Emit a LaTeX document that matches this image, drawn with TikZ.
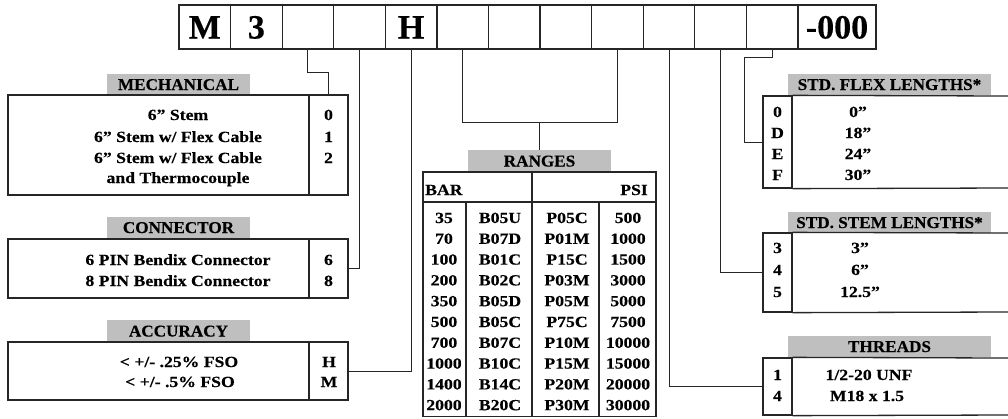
\documentclass[tikz,border=0pt]{standalone}
\usepackage{fontspec}
\setmainfont{Liberation Serif}
\newfontfamily\bodyf{Liberation Serif Bold}[FakeStretch=1.14,FakeBold=0.3]
\newfontfamily\headf{Liberation Serif Bold}[FakeStretch=1.04,FakeBold=0.3]
\newfontfamily\topf{Liberation Serif Bold}[FakeBold=0.3]
\usetikzlibrary{calc}
\begin{document}
\begin{tikzpicture}[x=1pt,y=-1pt,
  frame/.style={draw=black!85,line width=1.3pt},
  wire/.style={draw=black!85,line width=1pt},
  topbox/.style={frame,minimum width=51.58pt,minimum height=44pt,inner sep=0pt,
    font=\topf\fontsize{34}{34}\selectfont,text height=23pt,text depth=0pt},
  hdr/.style={fill=black!25,inner sep=0pt,text height=11pt,text depth=0pt,
    font=\headf\fontsize{16.5}{18}\selectfont},
  cell/.style={frame,inner sep=0pt},
  txt/.style={anchor=base,inner sep=0pt,font=\bodyf\fontsize{15.5}{18}\selectfont},
]
\useasboundingbox (0,0) rectangle (1008,418);
\fill[white] (0,0) rectangle (1008,418);

% top code boxes
\foreach \i/\t in {1/M,2/3,3/,4/,5/H,6/,7/,8/,9/,10/,11/,12/}
  \node[topbox] (b\i) at ({179+(\i-0.5)*51.58},27) {\t};
\node[topbox,minimum width=78pt] (b13) at (837,27) {-000};

% MECHANICAL
\node[hdr,minimum width=143pt,minimum height=21pt] (mechH) at (178.5,84.5) {MECHANICAL};
\node[cell,minimum width=301pt,minimum height=100pt] (mechT) at (158.5,145) {};
\node[cell,minimum width=39pt,minimum height=100pt] (mechC) at (328.5,145) {};
\node[txt] (m1) at (178,120) {6” Stem};
\node[txt] (m2) at (178,142) {6” Stem w/ Flex Cable};
\node[txt] (m3) at (178,163) {6” Stem w/ Flex Cable};
\node[txt] (m4) at (178,183) {and Thermocouple};
\node[txt] (mc1) at (328.5,120) {0};
\node[txt] (mc2) at (328.5,142) {1};
\node[txt] (mc3) at (328.5,163) {2};

% CONNECTOR
\node[hdr,minimum width=143pt,minimum height=21pt] (connH) at (178.5,227.5) {CONNECTOR};
\node[cell,minimum width=301pt,minimum height=59pt] (connT) at (158.5,268.5) {};
\node[cell,minimum width=39pt,minimum height=59pt] (connC) at (328.5,268.5) {};
\node[txt] (c1) at (178,265) {6 PIN Bendix Connector};
\node[txt] (c2) at (178,286) {8 PIN Bendix Connector};
\node[txt] (cc1) at (328.5,265) {6};
\node[txt] (cc2) at (328.5,286) {8};

% ACCURACY
\node[hdr,minimum width=143pt,minimum height=22pt] (accH) at (178.5,331) {ACCURACY};
\node[cell,minimum width=301pt,minimum height=58pt] (accT) at (158.5,371) {};
\node[cell,minimum width=39pt,minimum height=58pt] (accC) at (328.5,371) {};
\node[txt] (a1) at (179,367) {< +/- .25\% FSO};
\node[txt] (a2) at (180,387) {< +/- .5\% FSO};
\node[txt] (ac1) at (329,367) {H};
\node[txt] (ac2) at (329,387) {M};

% RANGES
\node[hdr,minimum width=143pt,minimum height=22pt] (rngH) at (539.5,161) {RANGES};
\node[cell,minimum width=233pt,minimum height=244.5pt] (rng) at (539.5,294.25) {};
\draw[frame] (423,202) -- (656,202);
\draw[frame] (532,172) -- (532,416.5);
\draw[frame] (466,202) -- (466,416.5);
\draw[frame] (599,202) -- (599,416.5);
\node[txt,anchor=base west] (bar) at (425,195) {BAR};
\node[txt,anchor=base east] (psi) at (648,195) {PSI};
\foreach \a/\b/\c/\d [count=\k from 0] in {35/B05U/P05C/500,70/B07D/P01M/1000,100/B01C/P15C/1500,200/B02C/P03M/3000,350/B05D/P05M/5000,500/B05C/P75C/7500,700/B07C/P10M/10000,1000/B10C/P15M/15000,1400/B14C/P20M/20000,2000/B20C/P30M/30000}{
  \node[txt] (ra\k) at (444,{223+20.8*\k}) {\a};
  \node[txt] (rb\k) at (500,{223+20.8*\k}) {\b};
  \node[txt] (rc\k) at (567,{223+20.8*\k}) {\c};
  \node[txt] (rd\k) at (628,{223+20.8*\k}) {\d};
}

% STD. FLEX LENGTHS
\node[hdr,minimum width=203pt,minimum height=21pt] (flexH) at (889.5,84.5) {STD. FLEX LENGTHS*};
\node[cell,minimum width=29pt,minimum height=92pt] (flexC) at (777.5,142) {};
\draw[frame] (flexC.north east) -- (1008,96);
\draw[frame] (flexC.south east) -- (1008,188);
\foreach \c/\v/\y in {0/0”/117,D/18”/138,E/24”/159,F/30”/180}{
  \node[txt] at (777.5,\y) {\c};
  \node[txt] at (858,\y) {\v};
}

% STD. STEM LENGTHS
\node[hdr,minimum width=203pt,minimum height=21pt] (stemH) at (889.5,222.5) {STD. STEM LENGTHS*};
\node[cell,minimum width=29pt,minimum height=79pt] (stemC) at (777.5,272.5) {};
\draw[frame] (stemC.north east) -- (1008,233);
\draw[frame] (stemC.south east) -- (1008,312);
\foreach \c/\v/\y in {3/3”/253,4/6”/275,5/12.5”/297}{
  \node[txt] at (777.5,\y) {\c};
  \node[txt] at (860,\y) {\v};
}

% THREADS
\node[hdr,minimum width=203pt,minimum height=21pt] (thrH) at (889.5,346.5) {THREADS};
\node[cell,minimum width=29pt,minimum height=57pt] (thrC) at (777.5,386.5) {};
\draw[frame] (thrC.north east) -- (1008,358);
\draw[frame] (thrC.south east) -- (1008,415);
\node[txt] at (777.5,380) {1};
\node[txt] at (777.5,401) {4};
\node[txt] at (869,380) {1/2-20 UNF};
\node[txt] at (867,401) {M18 x 1.5};

% connectors
\draw[wire] (b3.south) -- ++(0,23) -| (mechC.north);
\draw[wire] (b4.south) |- (connC.east);
\draw[wire] (b5.south) |- (accC.east);
\draw[wire] (b6.south) -- ++(0,73) coordinate (rl) -| (b9.south);
\draw[wire] (rngH.north) -- (rngH.north |- rl);
\draw[wire] (b10.south) |- (thrC.west);
\draw[wire] (b11.south) |- (stemC.west);
\draw[wire] (b12.south) -- ++(0,8) -- ++(-28,0) |- (flexC.west);
\end{tikzpicture}
\end{document}
